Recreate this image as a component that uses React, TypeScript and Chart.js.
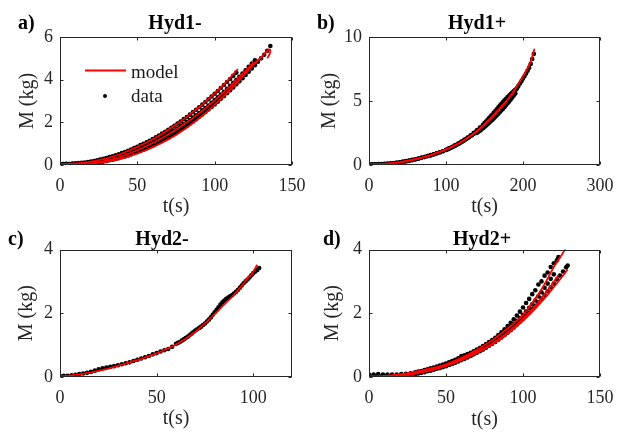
import React, { useEffect, useRef } from "react";
import { Chart, registerables } from "chart.js";

Chart.register(...registerables);

// ---------------- DATA ----------------
// Panel a) Hyd1-
const aRun1T = [0,2,4,6,8,10,12,14,16,18,20,22,24,26,28,30,32,34,36,38,40,42,44,46,48,50,52,54,56,58,60,62,64,66,68,70,72,74,76,78,80,82,84,86,88,90,92,94,96,98,100,102,104,106,108,110,112,114];
const aRun1M = [0.05,0.05,0.06,0.05,0.07,0.08,0.09,0.10,0.12,0.14,0.16,0.19,0.22,0.25,0.29,0.33,0.37,0.41,0.46,0.50,0.56,0.61,0.67,0.72,0.79,0.85,0.93,0.99,1.06,1.14,1.22,1.30,1.38,1.47,1.56,1.65,1.74,1.84,1.94,2.04,2.15,2.25,2.36,2.48,2.59,2.71,2.83,2.95,3.08,3.21,3.34,3.47,3.61,3.75,3.89,4.03,4.18,4.33];
const aRun2T = [0,2,4,6,8,10,12,14,16,18,20,22,24,26,28,30,32,34,36,38,40,42,44,46,48,50,52,54,56,58,60,62,64,66,68,70,72,74,76,78,80,82,84,86,88,90,92,94,96,98,100,102,104,106,108,110,112,114,116,118,120,122,124,126,128,130,132,134,136];
const aRun2M = [0.03,0.03,0.04,0.03,0.03,0.03,0.04,0.04,0.05,0.06,0.07,0.09,0.11,0.13,0.16,0.19,0.22,0.25,0.28,0.32,0.36,0.40,0.45,0.50,0.55,0.60,0.66,0.72,0.78,0.85,0.91,0.98,1.06,1.13,1.21,1.29,1.38,1.46,1.55,1.65,1.74,1.84,1.94,2.04,2.15,2.26,2.37,2.49,2.60,2.72,2.84,2.97,3.10,3.23,3.36,3.50,3.63,3.78,3.92,4.07,4.22,4.37,4.52,4.68,4.84,5.00,5.17,5.35,5.58];
const aRun3T = [0,2,4,6,8,10,12,14,16,18,20,22,24,26,28,30,32,34,36,38,40,42,44,46,48,50,52,54,56,58,60,62,64,66,68,70,72,74,76,78,80,82,84,86,88,90,92,94,96,98,100,102,104,106,108,110,112,114,116,118,120,122,124,126];
const aRun3M = [0.04,0.04,0.04,0.04,0.04,0.05,0.06,0.07,0.08,0.09,0.11,0.13,0.15,0.18,0.21,0.24,0.27,0.31,0.35,0.39,0.43,0.48,0.53,0.59,0.64,0.70,0.76,0.83,0.89,0.96,1.04,1.11,1.19,1.27,1.35,1.44,1.53,1.62,1.71,1.81,1.91,2.01,2.11,2.22,2.33,2.44,2.56,2.67,2.79,2.92,3.04,3.17,3.30,3.43,3.57,3.71,3.85,3.99,4.14,4.29,4.44,4.60,4.75,4.91];
const aFit1T = [0,5,10,15,20,25,30,35,40,45,50,55,60,65,70,75,80,85,90,95,100,105,110,115];
const aFit1M = [0.04,0.05,0.07,0.11,0.16,0.23,0.31,0.42,0.54,0.69,0.85,1.02,1.21,1.42,1.65,1.89,2.15,2.43,2.72,3.03,3.36,3.71,4.09,4.50];
const aFit2T = [10,15,20,25,30,35,40,45,50,55,60,65,70,75,80,85,90,95,100,105,110,115,120,125,130,133,135,136,135.5,134];
const aFit2M = [0.02,0.03,0.06,0.10,0.15,0.22,0.31,0.42,0.54,0.68,0.84,1.01,1.20,1.41,1.65,1.91,2.19,2.49,2.82,3.16,3.52,3.90,4.30,4.70,5.05,5.28,5.42,5.38,5.20,5.00];
const aFit3T = [5,10,20,30,40,50,60,70,80,90,100,110,120,125];
const aFit3M = [0.02,0.03,0.08,0.20,0.41,0.69,1.03,1.43,1.90,2.43,3.03,3.70,4.42,4.80];

// Panel b) Hyd1+
const bRun1T = [0,4,8,12,16,20,24,28,32,36,40,44,48,52,56,60,64,68,72,76,80,84,88,92,96,100,102,104,106,108,110,112,114,116,118,120,122,124,126,128,130,132,134,136,138,140,142,144,146,148,150,152,154,156,158,160,162,164,166,168,170,172,174,176,178,180,182,184,186,188,190,192,194,196,198,200,202,204,206,208,210,212,214];
const bRun1M = [0.05,0.06,0.06,0.07,0.08,0.10,0.12,0.14,0.16,0.19,0.22,0.26,0.31,0.35,0.40,0.45,0.51,0.57,0.63,0.70,0.77,0.84,0.92,1.00,1.08,1.17,1.22,1.28,1.33,1.39,1.45,1.51,1.58,1.65,1.71,1.78,1.86,1.93,2.01,2.09,2.17,2.26,2.34,2.43,2.52,2.62,2.72,2.82,2.92,3.02,3.12,3.23,3.34,3.45,3.57,3.68,3.81,3.93,4.06,4.19,4.32,4.46,4.60,4.74,4.88,5.02,5.17,5.33,5.49,5.65,5.82,6.00,6.18,6.37,6.55,6.75,6.95,7.15,7.37,7.60,7.90,8.28,8.68];
const bRun2T = [0,4,8,12,16,20,24,28,32,36,40,44,48,52,56,60,64,68,72,76,80,84,88,92,96,100,104,108,112,116,120,124,128,132,136,140,144,148,150,152,154,156,158,160,162,164,166,168,170,172,174,176,178,180,182,184,186,188,190,192];
const bRun2M = [0.03,0.03,0.04,0.04,0.05,0.07,0.08,0.11,0.13,0.16,0.19,0.23,0.28,0.32,0.38,0.43,0.49,0.56,0.62,0.69,0.75,0.83,0.91,0.99,1.08,1.18,1.30,1.42,1.55,1.68,1.83,1.99,2.15,2.33,2.52,2.72,2.93,3.15,3.27,3.40,3.53,3.66,3.80,3.93,4.08,4.22,4.36,4.50,4.64,4.78,4.92,5.05,5.18,5.30,5.43,5.55,5.66,5.78,5.88,5.98];
const bRun3T = [140,142,144,146,148,150,152,154,156,158,160,162,164,166,168,170,172,174,176,178,180,182,184,186,188,190];
const bRun3M = [2.50,2.59,2.68,2.78,2.88,2.98,3.08,3.19,3.30,3.41,3.52,3.64,3.76,3.88,4.01,4.14,4.27,4.40,4.54,4.68,4.82,4.97,5.12,5.27,5.43,5.58];
const bFit1T = [0,10,20,30,40,50,60,70,80,90,100,110,120,130,140,150,160,170,180,190,200,210,215];
const bFit1M = [0.03,0.05,0.08,0.13,0.20,0.30,0.43,0.58,0.76,0.97,1.20,1.48,1.80,2.18,2.62,3.12,3.70,4.36,5.10,5.95,6.90,8.10,9.08];
const bFit2T = [0,20,40,60,80,100,120,140,160,170,180,190];
const bFit2M = [0.03,0.09,0.22,0.45,0.78,1.22,1.82,2.65,3.80,4.45,5.10,5.85];

// Panel c) Hyd2-
const cRunT = [0,2,4,6,8,10,12,14,16,18,20,22,24,26,28,30,32,34,36,38,40,42,44,46,48,50,52,54,56,58,60,61,62,63,64,65,66,67,68,69,70,71,72,73,74,75,76,77,78,79,80,81,82,83,84,85,86,87,88,89,90,91,92,93,94,95,96,97,98,99,100,101,102,103];
const cRunM = [0.03,0.04,0.04,0.05,0.07,0.09,0.11,0.13,0.16,0.20,0.24,0.27,0.30,0.32,0.34,0.37,0.40,0.43,0.46,0.50,0.54,0.58,0.62,0.66,0.71,0.75,0.80,0.84,0.88,0.95,1.04,1.07,1.10,1.14,1.18,1.22,1.26,1.31,1.36,1.41,1.46,1.50,1.54,1.58,1.63,1.68,1.74,1.80,1.87,1.95,2.03,2.11,2.19,2.27,2.34,2.40,2.45,2.49,2.53,2.57,2.62,2.67,2.73,2.80,2.87,2.94,3.00,3.06,3.12,3.19,3.26,3.31,3.36,3.42];
const cFitT = [0,5,10,15,20,25,30,35,40,45,50,55,60,65,70,75,80,85,88,90,92,95,97,99,100,102];
const cFitM = [0.02,0.04,0.08,0.13,0.19,0.26,0.35,0.44,0.53,0.63,0.74,0.87,1.02,1.20,1.42,1.68,1.97,2.28,2.45,2.58,2.72,2.93,3.10,3.20,3.30,3.52];

// Panel d) Hyd2+
const dRun1T = [0,3,6,9,12,15,18,21,24,27,30,32,34,36,38,40,42,44,46,48,50,52,54,56,58,60,62,64,66,68,70,72,74,76,78,80,82,84,86,88,90,92,94,96,98,100,102,104,106,108,110,112,114,116,118,120,122,123];
const dRun1M = [0.08,0.08,0.09,0.08,0.08,0.08,0.08,0.09,0.10,0.12,0.15,0.17,0.19,0.22,0.24,0.27,0.30,0.33,0.36,0.39,0.42,0.46,0.50,0.54,0.59,0.66,0.68,0.72,0.76,0.81,0.86,0.91,0.97,1.03,1.10,1.16,1.23,1.32,1.40,1.50,1.60,1.70,1.81,1.93,2.05,2.18,2.32,2.45,2.60,2.72,2.90,3.00,3.18,3.28,3.45,3.57,3.66,3.76];
const dRun2T = [0,3,6,9,12,15,18,21,24,27,30,32,34,36,38,40,42,44,46,48,50,52,54,56,58,60,62,64,66,68,70,72,74,76,78,80,82,84,86,88,90,92,94,96,98,100,102,104,106,108,110,112,114,116,118,120,122,124,126,128,129];
const dRun2M = [0.03,0.03,0.03,0.03,0.04,0.03,0.04,0.04,0.05,0.07,0.09,0.11,0.13,0.15,0.18,0.20,0.23,0.26,0.28,0.31,0.34,0.38,0.41,0.45,0.49,0.53,0.57,0.61,0.66,0.71,0.76,0.81,0.86,0.92,0.98,1.04,1.10,1.17,1.24,1.31,1.39,1.47,1.55,1.64,1.73,1.83,1.92,2.02,2.13,2.23,2.34,2.46,2.57,2.69,2.81,2.93,3.06,3.18,3.31,3.44,3.50];
const dRun3T = [0,3,6,9,12,15,18,21,24,27,30,32,34,36,38,40,42,44,46,48,50,52,54,56,58,60,62,64,66,68,70,72,74,76,78,80,82,84,86,88,90,92,94,96,98,100,102,104,106,108,110,112,114,116,118,120];
const dRun3M = [0.05,0.05,0.05,0.05,0.05,0.05,0.05,0.06,0.08,0.10,0.12,0.14,0.16,0.19,0.21,0.24,0.27,0.30,0.33,0.36,0.39,0.43,0.47,0.51,0.55,0.59,0.64,0.68,0.73,0.78,0.84,0.89,0.94,1.00,1.06,1.13,1.20,1.26,1.33,1.41,1.49,1.58,1.67,1.76,1.85,1.95,2.06,2.17,2.28,2.40,2.53,2.66,2.80,2.93,3.08,3.22];
const dFit1T = [0,10,20,30,40,50,60,70,80,90,100,110,115,120,125,128];
const dFit1M = [0.00,0.03,0.08,0.16,0.27,0.40,0.60,0.85,1.15,1.52,1.95,2.60,3.00,3.45,3.82,4.05];
const dFit2T = [0,10,20,30,40,50,60,70,80,90,100,110,118,123];
const dFit2M = [0.02,0.03,0.07,0.15,0.25,0.38,0.56,0.78,1.05,1.40,1.82,2.35,2.85,3.20];
const dFit3T = [0,15,25,35,45,55,65,75,85,95,105,115,125,129];
const dFit3M = [0.00,0.02,0.06,0.15,0.27,0.43,0.63,0.88,1.18,1.55,2.00,2.52,3.12,3.38];

// Labels
const panelLetters = ["a)", "b)", "c)", "d)"];
const panelTitles = ["Hyd1-", "Hyd1+", "Hyd2-", "Hyd2+"];
const xLabel = "t(s)";
const yLabel = "M (kg)";
const legendLabels = ["model", "data"];

// ---------------- LAYOUT ----------------
const FONT = "'Liberation Serif', 'Times New Roman', Times, serif";
const TICK_SIZE = 18;
const AXIS_TITLE_SIZE = 20;
const TITLE_SIZE = 20;

type Run = { t: number[]; m: number[] };
type Panel = {
  idx: number;
  canvas: { left: number; top: number; w: number; h: number };
  area: { l: number; r: number; t: number; b: number };
  xMax: number; xStep: number; yMax: number; yStep: number;
  titleX: number; titleBase: number; letterX: number;
  yTitleX: number; xTitleY: number;
  runs: Run[]; fits: Run[]; legend: boolean;
};

const panels: Panel[] = [
  {
    idx: 0,
    canvas: { left: 0, top: 0, w: 305, h: 225 },
    area: { l: 60, r: 292, t: 37, b: 165 },
    xMax: 150, xStep: 50, yMax: 6, yStep: 2,
    titleX: 175, titleBase: 29, letterX: 18,
    yTitleX: 27.5, xTitleY: 207,
    runs: [{ t: aRun1T, m: aRun1M }, { t: aRun2T, m: aRun2M }, { t: aRun3T, m: aRun3M }],
    fits: [{ t: aFit1T, m: aFit1M }, { t: aFit2T, m: aFit2M }, { t: aFit3T, m: aFit3M }],
    legend: true,
  },
  {
    idx: 1,
    canvas: { left: 305, top: 0, w: 312, h: 225 },
    area: { l: 369, r: 600, t: 37, b: 165 },
    xMax: 300, xStep: 100, yMax: 10, yStep: 5,
    titleX: 477, titleBase: 29, letterX: 317,
    yTitleX: 330, xTitleY: 207,
    runs: [{ t: bRun1T, m: bRun1M }, { t: bRun2T, m: bRun2M }, { t: bRun3T, m: bRun3M }],
    fits: [{ t: bFit1T, m: bFit1M }, { t: bFit2T, m: bFit2M }],
    legend: false,
  },
  {
    idx: 2,
    canvas: { left: 0, top: 216, w: 305, h: 216 },
    area: { l: 60, r: 292, t: 249.5, b: 377 },
    xMax: 120, xStep: 50, yMax: 4, yStep: 2,
    titleX: 162, titleBase: 245, letterX: 8,
    yTitleX: 27, xTitleY: 419,
    runs: [{ t: cRunT, m: cRunM }],
    fits: [{ t: cFitT, m: cFitM }],
    legend: false,
  },
  {
    idx: 3,
    canvas: { left: 305, top: 216, w: 312, h: 216 },
    area: { l: 369, r: 600, t: 249.5, b: 377 },
    xMax: 150, xStep: 50, yMax: 4, yStep: 2,
    titleX: 482, titleBase: 245, letterX: 323,
    yTitleX: 333, xTitleY: 420,
    runs: [{ t: dRun1T, m: dRun1M }, { t: dRun2T, m: dRun2M }, { t: dRun3T, m: dRun3M }],
    fits: [{ t: dFit1T, m: dFit1M }, { t: dFit2T, m: dFit2M }, { t: dFit3T, m: dFit3M }],
    legend: false,
  },
];

const toPts = (t: number[], m: number[]) => {
  const n = Math.min(t.length, m.length);
  const out: { x: number; y: number }[] = [];
  for (let i = 0; i < n; i++) out.push({ x: t[i], y: m[i] });
  return out;
};

const stepTicks = (max: number, step: number) => {
  const out: { value: number }[] = [];
  for (let v = 0; v <= max + 1e-9; v += step) out.push({ value: v });
  return out;
};

function makeFramePlugin(p: Panel) {
  return {
    id: "frame" + p.idx,
    afterDraw(chart: any) {
      const ctx: CanvasRenderingContext2D = chart.ctx;
      const { left, right, top, bottom } = chart.chartArea;
      const ox = p.canvas.left;
      const oy = p.canvas.top;
      ctx.save();
      const L = Math.round(left) + 0.5;
      const R = Math.round(right) - 0.5;
      const T = Math.round(top) + 0.5;
      const B = Math.round(bottom) - 0.5;
      ctx.strokeStyle = "#262626";
      ctx.lineWidth = 1;
      ctx.strokeRect(L, T, R - L, B - T);
      const tl = 3;
      ctx.beginPath();
      chart.scales.x.ticks.forEach((tk: any) => {
        const px = Math.round(chart.scales.x.getPixelForValue(tk.value)) + 0.5;
        ctx.moveTo(px, B); ctx.lineTo(px, B - tl);
        ctx.moveTo(px, T); ctx.lineTo(px, T + tl);
      });
      chart.scales.y.ticks.forEach((tk: any) => {
        const py = Math.round(chart.scales.y.getPixelForValue(tk.value)) + 0.5;
        ctx.moveTo(L, py); ctx.lineTo(L + tl, py);
        ctx.moveTo(R, py); ctx.lineTo(R - tl, py);
      });
      ctx.stroke();
      ctx.fillStyle = "#000";
      ctx.font = `bold ${TITLE_SIZE}px ${FONT}`;
      ctx.textBaseline = "alphabetic";
      ctx.textAlign = "center";
      ctx.fillText(panelTitles[p.idx], p.titleX - ox, p.titleBase - oy);
      ctx.textAlign = "left";
      ctx.fillText(panelLetters[p.idx], p.letterX - ox, p.titleBase - oy);
      if (p.legend) {
        ctx.strokeStyle = "#ff0000";
        ctx.lineWidth = 2;
        ctx.beginPath();
        ctx.moveTo(85 - ox, 70.5 - oy);
        ctx.lineTo(126 - ox, 70.5 - oy);
        ctx.stroke();
        ctx.fillStyle = "#000";
        ctx.beginPath();
        ctx.arc(105 - ox, 96 - oy, 2, 0, Math.PI * 2);
        ctx.fill();
        ctx.font = `19px ${FONT}`;
        ctx.fillStyle = "#1a1a1a";
        ctx.fillText(legendLabels[0], 131 - ox, 78 - oy);
        ctx.fillText(legendLabels[1], 131 - ox, 101.5 - oy);
      }
      ctx.restore();
    },
  };
}

function buildConfig(p: Panel): any {
  const axisTitleLH = AXIS_TITLE_SIZE * 1.2;
  const yTitlePad = p.yTitleX - p.canvas.left - axisTitleLH / 2;
  const xTitlePad = p.canvas.top + p.canvas.h - p.xTitleY - axisTitleLH / 2;
  const datasets: any[] = [];
  p.fits.forEach((r) => {
    datasets.push({
      data: toPts(r.t, r.m),
      showLine: true,
      borderColor: "#ff0000",
      backgroundColor: "#ff0000",
      borderWidth: 1.8,
      pointRadius: 0,
      tension: 0.25,
      fill: false,
    });
  });
  p.runs.forEach((r) => {
    datasets.push({
      data: toPts(r.t, r.m),
      showLine: false,
      pointRadius: 2.3,
      pointBorderWidth: 0,
      pointBackgroundColor: "#000",
      backgroundColor: "#000",
      borderColor: "#000",
    });
  });
  return {
    type: "scatter",
    data: { datasets },
    options: {
      responsive: false,
      animation: false,
      devicePixelRatio: 1,
      events: [],
      layout: {
        padding: {
          left: 0,
          top: p.area.t - p.canvas.top,
          right: p.canvas.left + p.canvas.w - p.area.r,
          bottom: 0,
        },
      },
      plugins: {
        legend: { display: false },
        tooltip: { enabled: false },
        title: { display: false },
      },
      scales: {
        x: {
          type: "linear",
          min: 0,
          max: p.xMax,
          grid: { display: false, drawTicks: false },
          border: { display: false },
          ticks: {
            stepSize: p.xStep,
            autoSkip: false,
            maxRotation: 0,
            padding: 10,
            color: "#262626",
            font: { family: FONT, size: TICK_SIZE },
          },
          title: {
            display: true,
            text: xLabel,
            color: "#262626",
            font: { family: FONT, size: AXIS_TITLE_SIZE },
            padding: { top: 0, bottom: xTitlePad },
          },
          afterBuildTicks(s: any) {
            s.ticks = stepTicks(p.xMax, p.xStep);
          },
          afterFit(s: any) {
            s.height = p.canvas.top + p.canvas.h - p.area.b;
            s.paddingLeft = 0;
            s.paddingRight = 0;
          },
        },
        y: {
          type: "linear",
          min: 0,
          max: p.yMax,
          grid: { display: false, drawTicks: false },
          border: { display: false },
          ticks: {
            stepSize: p.yStep,
            autoSkip: false,
            padding: 7,
            color: "#262626",
            font: { family: FONT, size: TICK_SIZE },
          },
          title: {
            display: true,
            text: yLabel,
            color: "#262626",
            font: { family: FONT, size: AXIS_TITLE_SIZE },
            padding: { top: yTitlePad, bottom: 0 },
          },
          afterBuildTicks(s: any) {
            s.ticks = stepTicks(p.yMax, p.yStep);
          },
          afterFit(s: any) {
            s.width = p.area.l - p.canvas.left;
            s.paddingTop = 0;
            s.paddingBottom = 0;
          },
        },
      },
    },
    plugins: [makeFramePlugin(p)],
  };
}

function PanelChart({ p }: { p: Panel }) {
  const ref = useRef<HTMLCanvasElement>(null);
  useEffect(() => {
    const c = ref.current;
    if (!c) return;
    const chart = new Chart(c, buildConfig(p));
    return () => chart.destroy();
  }, [p]);
  return (
    <canvas
      ref={ref}
      width={p.canvas.w}
      height={p.canvas.h}
      style={{
        position: "absolute",
        left: p.canvas.left,
        top: p.canvas.top,
        width: p.canvas.w,
        height: p.canvas.h,
      }}
    />
  );
}

export default function App() {
  return (
    <div
      style={{
        position: "fixed",
        left: 0,
        top: 0,
        width: 617,
        height: 432,
        background: "#ffffff",
        overflow: "hidden",
      }}
    >
      {panels.map((p) => (
        <PanelChart key={p.idx} p={p} />
      ))}
    </div>
  );
}
